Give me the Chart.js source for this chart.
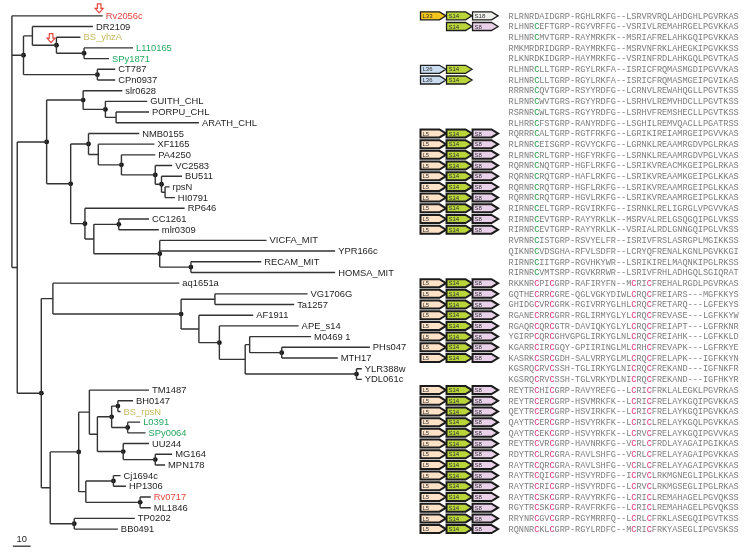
<!DOCTYPE html>
<html lang="en">
<head>
<meta charset="UTF-8">
<title>S14 tree</title>
<style>
  body { margin: 0; background: #fff; }
  #wrap { width: 750px; height: 553px; }
</style>
</head>
<body>
<div id="wrap"><canvas id="tree" width="750" height="553"></canvas></div>
<script src="https://cdn.jsdelivr.net/npm/chart.js"></script>
<script>
// leaves, top to bottom (row = index)
const leafNames = ['Rv2056c','DR2109','BS_yhzA','L110165','SPy1871','CT787','CPn0937','slr0628',
  'GUITH_CHL','PORPU_CHL','ARATH_CHL','NMB0155','XF1165','PA4250','VC2583','BU511','rpsN','HI0791',
  'RP646','CC1261','mlr0309','VICFA_MIT','YPR166c','RECAM_MIT','HOMSA_MIT','aq1651a','VG1706G',
  'Ta1257','AF1911','APE_s14','M0469 1','PHs047','MTH17','YLR388w','YDL061c','TM1487','BH0147',
  'BS_rpsN','L0391','SPy0064','UU244','MG164','MPN178','Cj1694c','HP1306','Rv0717','ML1846',
  'TP0202','BB0491'];

// distance of each leaf tip from the root (tree units, scale bar = 10)
const leafDepth = [51,45.5,38.5,68,54.5,58,58,62,76,77,105,71.5,80,80.5,90,95.5,88.5,91.5,
  97,77,82.5,143,181.5,140,181.5,94,166,158.5,135.5,161,168,201,183,196.5,196.5,77,68,61,
  72,75,77,90,86,61,64,78,78,69,59.5];

// internal nodes: depth and children (numbers = leaves, 'nK' = node K)
const nodeDepth = [0,6.5,3,11.5,48,25,40.5,19.5,16.5,40,33,52.5,58.5,43,41,48.5,61.5,80.5,84,86,
  46,60,83,100.5,23,21.5,95,114,105,116.5,131,133.5,193.5,151.5,37.5,35,43.5,41.5,48,56,62.5,
  59.5,65,80.5,57,72];
const nodeKids = [
  [0,'n1','n2'], ['n3','n4'], ['n7','n8'], [1,'n5'], [5,6], [2,'n6'], [3,4],
  ['n9','n10'], ['n24','n25'], [7,'n11'], ['n13','n14'], [8,'n12'], [9,10],
  [11,'n15'], [18,'n20'], [12,'n16'], [13,'n17'], [14,'n18'], [15,'n19'], [16,17],
  ['n21','n22'], [19,20], [21,22,'n23'], [23,24],
  [25,'n26'], ['n34','n35'], ['n27','n28'], [26,27], [28,'n29'], [29,'n30'], ['n31','n32'],
  [30,'n33'], [33,34], [31,32],
  ['n36','n37'], [47,48], [35,'n38'], ['n44','n45'], ['n39','n40'], ['n41','n42'], [40,'n43'],
  [36,37], [38,39], [41,42], [43,44], [45,46]
];
// nodes drawn with a dot
const dotNodes = [1,4,5,6,7,8,9,10,11,13,14,16,17,18,21,22,23,26,29,32,33,34,35,39,40,41,42,43,44,45];

// hollow red arrows: tip position (tree units, row)
const markX = [49, 22];
const markY = [-0.28, 2.5];

const scaleBarLen = 10;

const sequences = [
'RLRNRDAIDGRP-RGHLRKFG--LSRVRVRQLAHDGHLPGVRKAS',
'RLHNRCEFTGRP-RGYVRFFG--VSRIVLREMAHRGELPGVKKAS',
'RLHNRCMVTGRP-RAYMRKFK--MSRIAFRELAHKGQIPGVKKAS',
'RMKMRDRIDGRP-RAYMRKFG--MSRVNFRKLAHEGKIPGVKKSS',
'RLKNRDKIDGRP-HAYMRKFG--VSRINFRDLAHKGQLPGVTKAS',
'RLHNRCLLTGRP-RGYLRKFA--ISRICFRQMASMGDIPGVVKAS',
'RLHNRCLLTGRP-RGYLRKFA--ISRICFRQMASMGEIPGVIKAS',
'RRRNRCQVTGRP-RSYYRDFG--LCRNVLREWAHQGLLPGVTKSS',
'RLRNRCWVTGRS-RGYYRDFG--LSRHVLREMVHDCLLPGVTKSS',
'RSRNRCWLTGRS-RGYYRDFG--LSRHVFREMSHECLLPGVTKSS',
'RLHRRCFSTGRP-RANYRDFG--LSGHILREMVQACLLPGATRSS',
'RQRRRCALTGRP-RGTFRKFG--LGRIKIREIAMRGEIPGVVKAS',
'RLRNRCEISGRP-RGVYCKFG--LGRNKLREAAMRGDVPGLRKAS',
'RLRNRCRLTGRP-HGFYRKFG--LSRNKLREAAMRGDVPGLVKAS',
'RQRNRCNQTGRP-HGFLRKFG--LSRIKVREACMKGEIPGLRKAS',
'RQRNRCRQTGRP-HAFLRKFG--LSRIKVREAAMKGEIPGLKKAS',
'RQRNRCRQTGRP-HGFLRKFG--LSRIKVREAAMRGEIPGLKKAS',
'RQRNRCRQTGRP-HGVLRKFG--LSRIKVREAAMRGEIPGLKKAS',
'RIRNRCELTGRP-RGVIRKFG--ISRNKLRELIGRGLVPGVVKAS',
'RIRNRCEVTGRP-RAYYRKLK--MSRVALRELGSQGQIPGLVKSS',
'RIRNRCEVTGRP-RAYYRKLK--VSRIALRDLGNNGQIPGLVKSS',
'RVRNRCISTGRP-RSVYELFR--ISRIVFRSLASRGPLMGIKKSS',
'QIKNRCVDSGHA-RFVLSDFR--LCRYQFRENALKGNLPGVKKGI',
'RIRNRCIITGRP-RGVHKYWR--LSRIKIRELMAQNKIPGLRKSS',
'RIRNRCVMTSRP-RGVKRRWR--LSRIVFRHLADHGQLSGIQRAT',
'RKKNRCPICGRP-RAFIRYFN--MCRICFREHALRGDLPGVRKAS',
'GQTHECRRCGRE-QGLVGKYDIWLCRQCFREIARS---MGFKKYS',
'GHIDGCVRCGRK-RGIVRRYGLHLCRQCFRETARQ---LGFEKYS',
'RGANECRRCGRR-RGLIRMYGLYLCRQCFREVASE---LGFKKYW',
'RGAQRCQRCGTR-DAVIQKYGLYLCRQCFREIAPT---LGFRKNR',
'YGIRPCQRCGHVGPGLIRKYGLNLCRQCFREIAHK---LGFKKLD',
'KGARRCIRCGQY-GPIIRINGLMLCRHCFREVAPK---LGFRKYE',
'KASRKCSRCGDH-SALVRRYGLMLCRQCFRELAPK---IGFKKYN',
'KGSRQCRVCSSH-TGLIRKYGLNICRQCFREKAND---IGFNKFR',
'KGSRQCRVCSSH-TGLVRKYDLNICRQCFREKAND---IGFHKYR',
'REYTRCHICGRP-RAVYREFG--LCRICFRKLALEGKLPGVRKAS',
'REYTRCERCGRP-HSVMRKFK--LCRICFRELAYKGQIPGVKKAS',
'QEYTRCERCGRP-HSVIRKFK--LCRICFRELAYKGQIPGVKKAS',
'QAYTRCERCGRP-HSVYRKFK--LCRICLRELAYKGQLPGVKKAS',
'QAYTRCEKCGRP-HSVYRKFK--LCRVCFRELAYKGQIPGVVKAS',
'REYTRCVRCGRP-HAVNRKFG--VCRLCFRDLAYAGAIPGIKKAS',
'RDYTRCLRCGRA-RAVLSHFG--VCRLCFRELAYAGAIPGVKKAS',
'RAYTRCQRCGRA-RAVLSHFG--VCRLCFRELAYAGAIPGVKKAS',
'RAYTRCQICGRP-HSVYRDFG--ICRVCLRKMGNEGLIPGLKKAS',
'RAYTRCRICGRP-HSVYRDFG--LCRVCLRKMGSEGLIPGLRKAS',
'RAYTRCSKCGRP-RAVYRKFG--LCRICLREMAHAGELPGVQKSS',
'RGYTRCSKCGRP-RAVFRKFG--LCRICLREMAHAGELPGVQKSS',
'RRYNRCGVCGRP-RGYMRRFQ--LCRLCFRKLASEGQIPGVTKSS',
'RQNNRCKLCGRP-RGYLRDFC--MCRICFRKYASEGLIPGVSKSS'
];
// conserved cysteines: Zn-less group (green) and Zn-ribbon group (pink)
const greenCols = [5];
const pinkCols = [5, 8, 24, 27];
const pinkFromRow = 25;

// gene neighbourhood per row
const geneSets = {
  a: ['L33','S14','S18'],
  b: ['','S14','S8'],
  c: ['L36','S14',''],
  d: ['L5','S14','S8']
};
const geneByRow = ['a','b','','','','c','c','','','','',
  'd','d','d','d','d','d','d','d','d','d','','','','',
  'd','d','d','d','d','d','d','d','','',
  'd','d','d','d','d','d','d','d','d','d','d','d','d','d'];

const geneFill = { L33:'#f4c51c', S14:'#b9d53a', S18:'#eef1ec', S8:'#e9d2e9', L36:'#c9dcf0', L5:'#fde2c8' };
const labelColor = { Rv2056c:'#e5473f', Rv0717:'#e5473f', BS_yhzA:'#c5b95c', BS_rpsN:'#c5b95c',
  L110165:'#25a862', SPy1871:'#25a862', L0391:'#25a862', SPy0064:'#25a862' };

// ---- layout of the tree from the arrays above
const nodeY = [];
function yOf(k) { return typeof k === 'number' ? k : nodeYOf(+k.slice(1)); }
function xOf(k) { return typeof k === 'number' ? leafDepth[k] : nodeDepth[+k.slice(1)]; }
function nodeYOf(n) {
  if (nodeY[n] === undefined) {
    const kids = nodeKids[n];
    nodeY[n] = (yOf(kids[0]) + yOf(kids[kids.length - 1])) / 2;
  }
  return nodeY[n];
}
const treeSegs = [];
nodeKids.forEach((kids, n) => {
  const x = nodeDepth[n];
  treeSegs.push({x, y: yOf(kids[0])}, {x, y: yOf(kids[kids.length - 1])}, {x: null, y: null});
  kids.forEach(k => {
    treeSegs.push({x, y: yOf(k)}, {x: xOf(k), y: yOf(k)}, {x: null, y: null});
  });
});
const dots = dotNodes.map(n => ({x: nodeDepth[n], y: nodeYOf(n)}));
const barRow = 49.6, barStart = 0.5;

const textPlugin = {
  id: 'texts',
  afterDatasetsDraw(chart) {
    const ctx = chart.ctx;
    const xs = chart.scales.x, ys = chart.scales.y, xa = chart.scales.xa, xg = chart.scales.xg;
    ctx.save();
    // leaf labels
    ctx.font = '9.4px "Liberation Sans", Arial, sans-serif';
    ctx.textBaseline = 'middle';
    ctx.textAlign = 'left';
    leafNames.forEach((name, i) => {
      ctx.fillStyle = labelColor[name] || '#1e1e1e';
      ctx.fillText(name, xs.getPixelForValue(leafDepth[i]) + 3, ys.getPixelForValue(i) + 0.5);
    });
    // scale bar label
    ctx.fillStyle = '#1e1e1e';
    ctx.textAlign = 'center';
    ctx.textBaseline = 'bottom';
    ctx.fillText(String(scaleBarLen), xs.getPixelForValue(barStart + scaleBarLen / 2), ys.getPixelForValue(barRow) - 2);

    // alignment
    ctx.font = '8.6px "Liberation Mono", "Courier New", monospace';
    ctx.textBaseline = 'middle';
    sequences.forEach((s, r) => {
      const y = ys.getPixelForValue(r) + 0.5;
      for (let c = 0; c < s.length; c++) {
        let col = '#7d7d7d';
        if (s[c] === 'C') {
          if (r < pinkFromRow && greenCols.includes(c)) col = '#1fa04a';
          if (r >= pinkFromRow && pinkCols.includes(c)) col = '#e0307c';
        }
        ctx.fillStyle = col;
        ctx.fillText(s[c], xa.getPixelForValue(c + 0.5), y);
      }
    });

    // gene arrows
    geneByRow.forEach((key, r) => {
      if (!key) return;
      const y = ys.getPixelForValue(r);
      geneSets[key].forEach((g, i) => {
        if (!g) return;
        const x0 = xg.getPixelForValue(i), x1 = xg.getPixelForValue(i + 1) - 0.5;
        const h = 4;
        ctx.beginPath();
        ctx.moveTo(x0, y - h);
        ctx.lineTo(x1 - 6.5, y - h);
        ctx.lineTo(x1, y);
        ctx.lineTo(x1 - 6.5, y + h);
        ctx.lineTo(x0, y + h);
        ctx.closePath();
        ctx.fillStyle = geneFill[g];
        ctx.fill();
        ctx.lineWidth = key === 'd' ? 2 : 1.3;
        ctx.strokeStyle = '#1c1c1c';
        ctx.stroke();
        ctx.fillStyle = '#333';
        ctx.font = '6px "Liberation Sans", Arial, sans-serif';
        ctx.textAlign = 'left';
        ctx.fillText(g, x0 + 2, y + 0.5);
      });
    });

    // hollow red arrows
    ctx.strokeStyle = '#e5473f';
    ctx.fillStyle = '#fff';
    ctx.lineWidth = 1.2;
    markX.forEach((mx, i) => {
      const px = xs.getPixelForValue(mx), py = ys.getPixelForValue(markY[i]);
      ctx.beginPath();
      ctx.moveTo(px, py);
      ctx.lineTo(px - 4, py - 4.5);
      ctx.lineTo(px - 1.8, py - 4.5);
      ctx.lineTo(px - 1.8, py - 9);
      ctx.lineTo(px + 1.8, py - 9);
      ctx.lineTo(px + 1.8, py - 4.5);
      ctx.lineTo(px + 4, py - 4.5);
      ctx.closePath();
      ctx.fill();
      ctx.stroke();
    });
    ctx.restore();
  }
};

new Chart(document.getElementById('tree'), {
  type: 'scatter',
  data: {
    datasets: [
      {
        data: treeSegs,
        showLine: true,
        spanGaps: false,
        borderColor: '#333',
        borderWidth: 1.4,
        pointRadius: 0
      },
      {
        data: dots,
        pointRadius: 2.4,
        pointBackgroundColor: '#111',
        pointBorderWidth: 0
      },
      {
        data: [{x: barStart, y: barRow}, {x: barStart + scaleBarLen, y: barRow}],
        showLine: true,
        borderColor: '#333',
        borderWidth: 1.3,
        pointRadius: 0
      }
    ]
  },
  options: {
    responsive: false,
    animation: false,
    layout: { padding: 0 },
    plugins: { legend: { display: false }, tooltip: { enabled: false } },
    scales: {
      x: { type: 'linear', display: false, min: -4.444, max: 412.22 },
      y: { type: 'linear', display: false, reverse: true, min: -1.106, max: 49.862 },
      xa: { type: 'linear', axis: 'x', display: false, min: -98.65, max: 46.42 },
      xg: { type: 'linear', axis: 'x', display: false, min: -16.008, max: 12.51 }
    }
  },
  plugins: [textPlugin]
});
</script>
</body>
</html>
